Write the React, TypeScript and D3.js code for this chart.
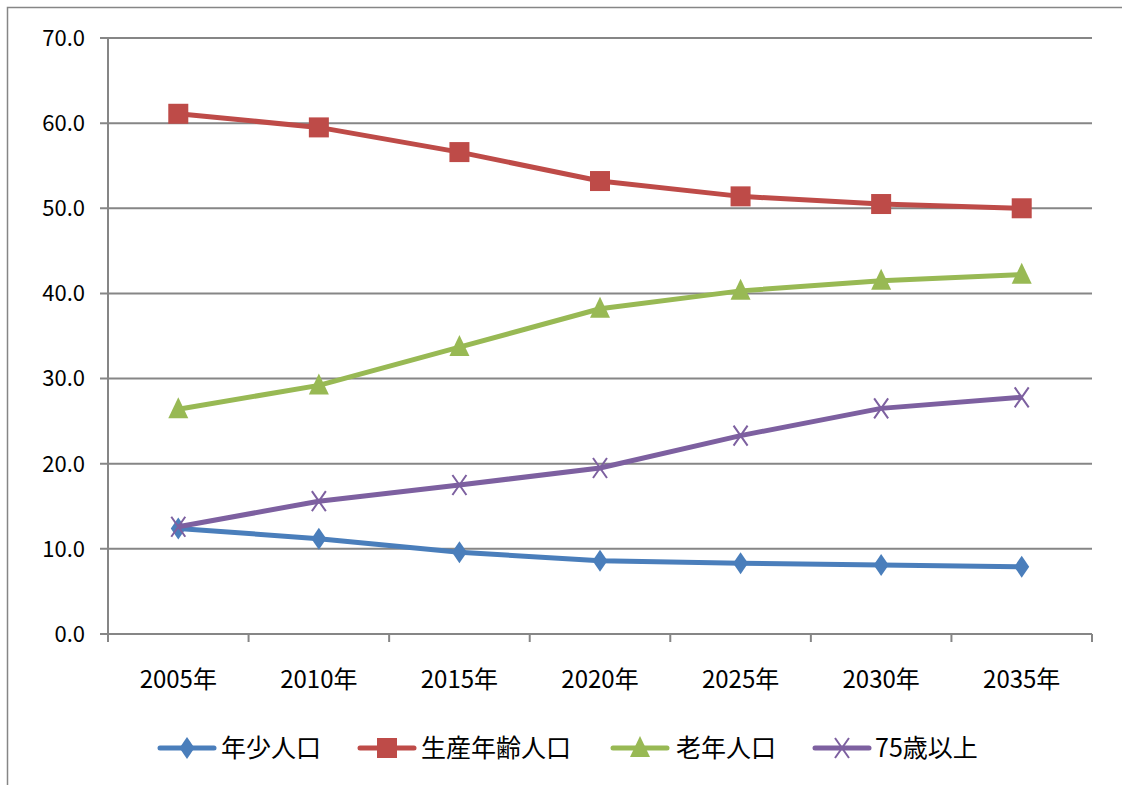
import React from "react";
import * as d3 from "d3";

const categories = ["2005年", "2010年", "2015年", "2020年", "2025年", "2030年", "2035年"];
const seriesNames = ["年少人口", "生産年齢人口", "老年人口", "75歳以上"];
const youth = [12.4, 11.2, 9.6, 8.6, 8.3, 8.1, 7.9];
const working = [61.1, 59.5, 56.6, 53.2, 51.4, 50.5, 50.0];
const elderly = [26.4, 29.2, 33.7, 38.2, 40.3, 41.5, 42.2];
const over75 = [12.6, 15.6, 17.5, 19.5, 23.3, 26.5, 27.8];
const yTicks = [0, 10, 20, 30, 40, 50, 60, 70];
const colors = ["#4a7ebb", "#be4b48", "#98b954", "#7d60a0"];
const markerTypes = ["diamond", "square", "triangle", "x"];

const W = 1122, H = 785;
const L = 108, R = 1092, T = 38, B = 634;
const FONT = "'Noto Sans CJK JP', 'Open Sans', sans-serif";

function Marker({ type, x, y, color }: { type: string; x: number; y: number; color: string }) {
  if (type === "diamond") {
    return <path d={`M${x},${y - 11} L${x + 7.5},${y} L${x},${y + 11} L${x - 7.5},${y} Z`} fill={color} />;
  }
  if (type === "square") {
    return <rect x={x - 10} y={y - 10} width={20} height={20} fill={color} />;
  }
  if (type === "triangle") {
    return <path d={`M${x},${y - 12} L${x + 10},${y + 9} L${x - 10},${y + 9} Z`} fill={color} />;
  }
  return (
    <path d={`M${x - 7},${y - 10} L${x + 7},${y + 10} M${x + 7},${y - 10} L${x - 7},${y + 10}`} stroke={color} strokeWidth={2} fill="none" />
  );
}

export default function App() {
  const x = d3.scaleBand().domain(categories).range([L, R]);
  const y = d3.scaleLinear().domain([0, 70]).range([B, T]);
  const data = [youth, working, elderly, over75];
  const line = d3
    .line<number>()
    .x((_, i) => (x(categories[i]) as number) + x.bandwidth() / 2)
    .y((d) => y(d));
  const ticksX = d3.range(categories.length + 1).map((i) => L + i * x.bandwidth());

  const legendItems = [
    { lx: 160, tx: 221 },
    { lx: 360, tx: 421 },
    { lx: 613, tx: 676 },
    { lx: 815, tx: 875 },
  ];
  const legY = 748;

  return (
    <svg width={W} height={H} style={{ position: "absolute", left: 0, top: 0, background: "#fff" }} fontFamily={FONT}>
      <rect x={7.5} y={7.5} width={W + 20} height={H + 20} fill="#fff" stroke="#868686" strokeWidth={1.5} />
      {yTicks.map((t) => (
        <g key={t}>
          <line x1={100} x2={R} y1={y(t)} y2={y(t)} stroke="#868686" strokeWidth={2} />
          <text x={85} y={y(t)} dy="0.36em" textAnchor="end" fontSize={22} fill="#000">
            {t.toFixed(1)}
          </text>
        </g>
      ))}
      <line x1={L} x2={L} y1={T} y2={B} stroke="#868686" strokeWidth={2} />
      {ticksX.map((tx, i) => (
        <line key={i} x1={tx} x2={tx} y1={B} y2={B + 8} stroke="#868686" strokeWidth={2} />
      ))}
      {categories.map((c) => (
        <text key={c} x={(x(c) as number) + x.bandwidth() / 2} y={688} textAnchor="middle" fontSize={24} fill="#000">
          {c}
        </text>
      ))}
      {data.map((vals, si) => (
        <g key={si}>
          <path d={line(vals) || ""} fill="none" stroke={colors[si]} strokeWidth={5} strokeLinejoin="round" />
          {vals.map((v, i) => (
            <Marker key={i} type={markerTypes[si]} x={(x(categories[i]) as number) + x.bandwidth() / 2} y={y(v)} color={colors[si]} />
          ))}
        </g>
      ))}
      {legendItems.map((it, si) => (
        <g key={si}>
          <line x1={it.lx} x2={it.lx + 54} y1={legY} y2={legY} stroke={colors[si]} strokeWidth={5} strokeLinecap="round" />
          <Marker type={markerTypes[si]} x={it.lx + 27} y={legY} color={colors[si]} />
          <text x={it.tx} y={legY} dy="0.36em" fontSize={25} fill="#000">
            {seriesNames[si]}
          </text>
        </g>
      ))}
    </svg>
  );
}
